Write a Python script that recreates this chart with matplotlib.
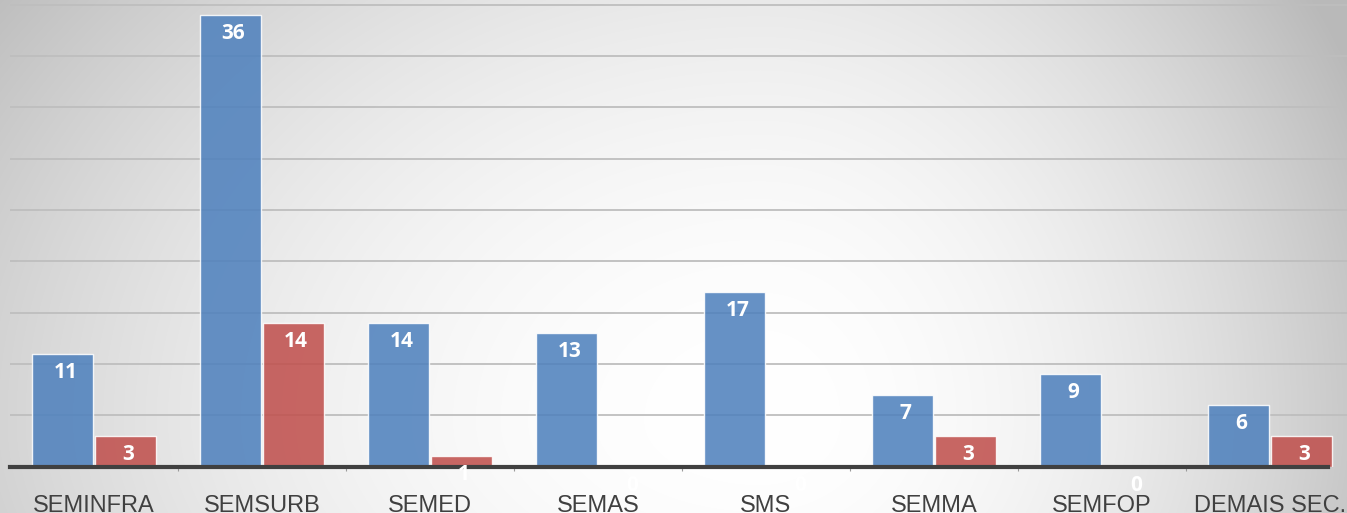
import numpy as np
import matplotlib
matplotlib.use("Agg")
import matplotlib.pyplot as plt

# ---- data ----
categories = ["SEMINFRA", "SEMSURB", "SEMED", "SEMAS", "SMS", "SEMMA", "SEMFOP", "DEMAIS SEC."]
blue_heights = [11, 44, 14, 13, 17, 7, 9, 6]      # bar heights as drawn
blue_labels = ["11", "36", "14", "13", "17", "7", "9", "6"]
red_heights = [3, 14, 1, 0, 0, 3, 0, 3]
red_labels = ["3", "14", "1", "0", "0", "3", "0", "3"]
grid_values = [5, 10, 15, 20, 25, 30, 35, 40, 45]

W, H, DPI = 1347, 513, 100
fig = plt.figure(figsize=(W / DPI, H / DPI), dpi=DPI)

# ---- background radial gradient ----
bg = fig.add_axes([0, 0, 1, 1], zorder=-10)
yy, xx = np.mgrid[0:H, 0:W].astype(float)
cx, cy = 760.0, 420.0
rx = np.where(xx < cx, 900.0, 620.0)
ry = np.where(yy < cy, 700.0, 500.0)
r2 = ((xx - cx) / rx) ** 2 + ((yy - cy) / ry) ** 2
g = np.clip(255 - 60 * r2, 185, 255) / 255.0
bg.imshow(np.dstack([g, g, g]), aspect="auto", extent=[0, W, H, 0])
bg.set_axis_off()

# ---- main axes ----
base_px = 466.5
ax = fig.add_axes([10 / W, (H - base_px) / H, 1344 / W, base_px / H])
ax.set_facecolor("none")
ax.set_xlim(-0.5, len(categories) - 0.5)
ax.set_ylim(0, 45.44)

x = np.arange(len(categories))
bw = 0.365
off = 0.186

for gv in grid_values:
    ax.axhline(gv, color="#BEBEBE", lw=1.3, zorder=1)

ax.bar(x - off, blue_heights, width=bw, color="#4F81BD", alpha=0.87,
       edgecolor=(1, 1, 1, 0.75), linewidth=1.0, zorder=2)
ax.bar(x + off, red_heights, width=bw, color="#C0504D", alpha=0.87,
       edgecolor=(1, 1, 1, 0.75), linewidth=1.0, zorder=2)

lab_kw = dict(ha="center", va="center", color="white", fontsize=15,
              fontweight="bold", family=["Open Sans", "DejaVu Sans"], zorder=6,
              textcoords="offset points")
for xi, h, t in zip(x - off, blue_heights, blue_labels):
    ax.annotate(t, xy=(xi, h), xytext=(2.0, -13.5), **lab_kw)
for xi, h, t in zip(x + off, red_heights, red_labels):
    ax.annotate(t, xy=(xi, h), xytext=(2.0, -13.5), **lab_kw)

# axes spines
for s in ["top", "right", "left"]:
    ax.spines[s].set_visible(False)
ax.spines["bottom"].set_color("#404040")
ax.spines["bottom"].set_linewidth(3.0)
ax.spines["bottom"].set_bounds(-0.5, 7.345)
ax.spines["bottom"].set_zorder(5)

ax.set_yticks([])
ax.set_xticks(x)
ax.set_xticklabels(categories, fontsize=17, color="#404040",
                   family=["Liberation Sans", "DejaVu Sans"])
for lbl in ax.get_xticklabels():
    lbl.set_va("baseline")
ax.tick_params(axis="x", which="major", length=0, pad=32.4)
ax.set_xticks(np.arange(-0.5, len(categories), 1.0)[1:-1], minor=True)
ax.tick_params(axis="x", which="minor", length=3, width=0.8, color="#9A9A9A")

fig.savefig("out.png", dpi=DPI)
